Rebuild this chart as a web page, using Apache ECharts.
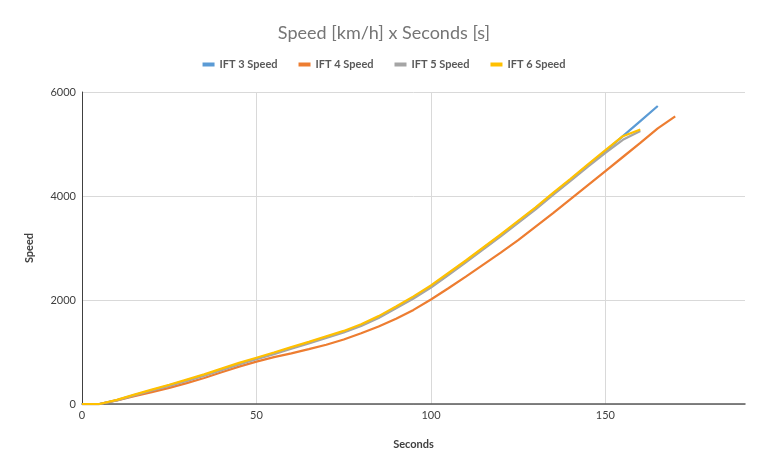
<!DOCTYPE html>
<html>
<head>
<meta charset="utf-8">
<title>Speed x Seconds</title>
<script src="https://cdn.jsdelivr.net/npm/echarts@6/dist/echarts.min.js"></script>
<style>
    html, body { margin: 0; padding: 0; background: #ffffff; }
    #chart { width: 768px; height: 475px; }
</style>
</head>
<body>
<div id="chart"></div>
<script>
// seconds, one sample every 5 s
let seconds = [0, 5, 10, 15, 20, 25, 30, 35, 40, 45, 50, 55, 60, 65, 70, 75, 80, 85,
    90, 95, 100, 105, 110, 115, 120, 125, 130, 135, 140, 145, 150, 155, 160, 165, 170];

// speed per run (each list stops where the run stops)
let ift3Speed = [0, 0, 75, 170, 265, 360, 455, 555, 665, 775, 875, 975, 1080, 1180, 1285, 1390,
    1515, 1670, 1855, 2050, 2260, 2500, 2745, 2995, 3245, 3505, 3765, 4045, 4315, 4595, 4865, 5150, 5440, 5731];
let ift4Speed = [0, 0, 70, 150, 230, 310, 400, 500, 610, 720, 815, 900, 975, 1055, 1140, 1240,
    1360, 1490, 1640, 1810, 2010, 2225, 2450, 2680, 2910, 3150, 3410, 3670, 3940, 4210, 4480, 4750, 5020, 5300, 5530];
let ift5Speed = [0, 0, 70, 165, 260, 350, 445, 545, 650, 760, 860, 960, 1065, 1165, 1270, 1375,
    1500, 1655, 1840, 2030, 2240, 2480, 2725, 2975, 3225, 3485, 3745, 4020, 4290, 4565, 4830, 5080, 5250];
let ift6Speed = [0, 0, 80, 180, 275, 370, 470, 570, 680, 790, 890, 990, 1095, 1195, 1300, 1405,
    1535, 1690, 1875, 2070, 2280, 2520, 2760, 3010, 3260, 3520, 3780, 4060, 4330, 4610, 4880, 5150, 5280];

let seriesNames = ['IFT 3 Speed', 'IFT 4 Speed', 'IFT 5 Speed', 'IFT 6 Speed'];
let seriesColors = ['#5B9BD5', '#ED7D31', '#A5A5A5', '#FFC000'];
let xTicks = [0, 50, 100, 150];
let yTicks = [0, 2000, 4000, 6000];

function toPairs(values) {
    return values.map(function (v, i) {
        return [seconds[i], v];
    });
}

let font = 'Lato, "Open Sans", sans-serif';
let myChart = echarts.init(document.getElementById('chart'));

let option = {
    animation: false,
    color: seriesColors,
    title: {
        text: 'Speed [km/h] x Seconds [s]',
        left: 'center',
        top: 19,
        textStyle: {
            fontFamily: font,
            fontSize: 18,
            fontWeight: 'normal',
            color: '#757575'
        }
    },
    legend: {
        top: 54,
        left: 'center',
        itemWidth: 12,
        itemHeight: 4,
        itemGap: 21,
        icon: 'rect',
        data: seriesNames,
        textStyle: {
            fontFamily: font,
            fontSize: 11,
            fontWeight: 'bold',
            color: '#595959'
        }
    },
    grid: {
        left: 82,
        right: 23,
        top: 92,
        bottom: 71,
        containLabel: false
    },
    xAxis: {
        type: 'value',
        min: 0,
        max: 190,
        interval: 50,
        name: 'Seconds',
        nameLocation: 'middle',
        nameGap: 35,
        nameTextStyle: {
            fontFamily: font,
            fontSize: 11,
            fontWeight: 'bold',
            color: '#404040'
        },
        axisLine: { lineStyle: { color: '#595959', width: 1.5 } },
        axisTick: { show: false },
        axisLabel: {
            showMaxLabel: false,
            margin: 6,
            fontFamily: font,
            fontSize: 11,
            color: '#404040',
            formatter: function (v) {
                return xTicks.indexOf(v) >= 0 ? String(v) : '';
            }
        },
        splitLine: {
            show: true,
            showMaxLine: false,
            lineStyle: { color: '#D9D9D9', width: 1 }
        }
    },
    yAxis: {
        type: 'value',
        min: 0,
        max: 6000,
        interval: 2000,
        name: 'Speed',
        nameLocation: 'middle',
        nameGap: 47,
        nameTextStyle: {
            fontFamily: font,
            fontSize: 11,
            fontWeight: 'bold',
            color: '#404040'
        },
        axisLine: { show: true, lineStyle: { color: '#404040', width: 1 } },
        axisTick: { show: false },
        axisLabel: {
            margin: 6,
            fontFamily: font,
            fontSize: 11,
            color: '#404040',
            formatter: function (v) {
                return yTicks.indexOf(v) >= 0 ? String(v) : '';
            }
        },
        splitLine: {
            show: true,
            lineStyle: { color: '#D9D9D9', width: 1 }
        }
    },
    series: [
        { name: seriesNames[0], type: 'line', data: toPairs(ift3Speed) },
        { name: seriesNames[1], type: 'line', data: toPairs(ift4Speed) },
        { name: seriesNames[2], type: 'line', data: toPairs(ift5Speed) },
        { name: seriesNames[3], type: 'line', data: toPairs(ift6Speed) }
    ].map(function (s) {
        s.showSymbol = false;
        s.symbol = 'none';
        s.lineStyle = { width: 2.25 };
        return s;
    })
};

myChart.setOption(option);
</script>
</body>
</html>
